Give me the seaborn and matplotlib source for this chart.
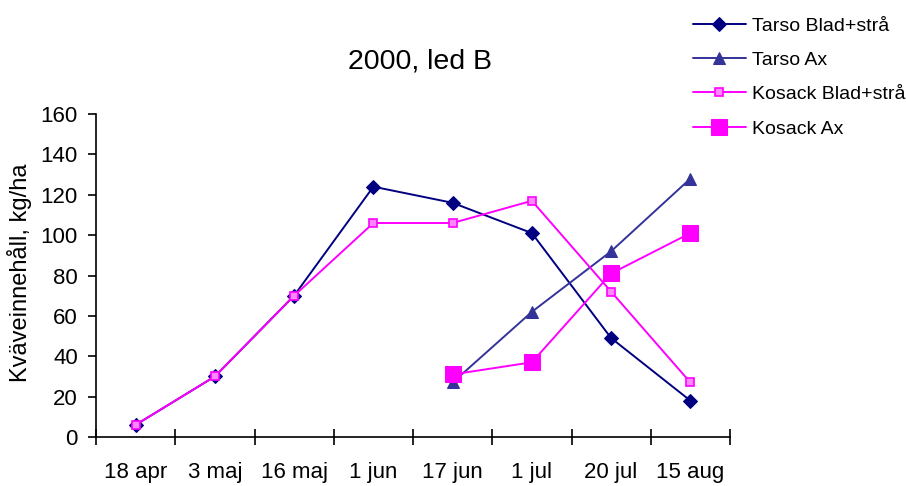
import matplotlib
matplotlib.use("Agg")
import numpy as np
import pandas as pd
import matplotlib.pyplot as plt
import seaborn as sns

# ---- data ----
dates = ["18 apr", "3 maj", "16 maj", "1 jun", "17 jun", "1 jul", "20 jul", "15 aug"]
tarso_blad = [6, 30, 70, 124, 116, 101, 49, 18]
tarso_ax = [np.nan, np.nan, np.nan, np.nan, 27, 62, 92, 128]
kosack_blad = [6, 30, 70, 106, 106, 117, 72, 27]
kosack_ax = [np.nan, np.nan, np.nan, np.nan, 31, 37, 81, 101]
series_names = ["Tarso Blad+strå", "Tarso Ax", "Kosack Blad+strå", "Kosack Ax"]
title = "2000, led B"
ylabel = "Kväveinnehåll, kg/ha"

sns.set_style("white")
plt.rcParams["font.family"] = ["Liberation Sans", "DejaVu Sans"]
plt.rcParams["text.color"] = "black"
plt.rcParams["xtick.color"] = "black"
plt.rcParams["ytick.color"] = "black"

fig = plt.figure(figsize=(9.06, 4.86), dpi=100)
W, H = 906, 486
ax = fig.add_axes([96 / W, 1 - 437 / H, (730 - 96) / W, (437 - 114) / H])

pos = np.arange(len(dates))
styles = [
    dict(color="#000080", marker="D", markersize=7, markerfacecolor="#000080",
         markeredgecolor="#000080"),
    dict(color="#333399", marker="^", markersize=9, markerfacecolor="#333399",
         markeredgecolor="#333399"),
    dict(color="#FF00FF", marker="s", markersize=6, markerfacecolor="#FF88FF",
         markeredgecolor="#FF00FF", markeredgewidth=1.2),
    dict(color="#FF00FF", marker="s", markersize=11, markerfacecolor="#FF00FF",
         markeredgecolor="#FF00FF"),
]
for name, vals, st in zip(series_names, [tarso_blad, tarso_ax, kosack_blad, kosack_ax], styles):
    df = pd.DataFrame({"x": pos, "y": vals}).dropna()
    sns.lineplot(data=df, x="x", y="y", ax=ax, label=name, linewidth=1.4, **st)

ax.set_xlim(-0.5, len(dates) - 0.5)
ax.set_ylim(0, 160)
ax.set_yticks(np.arange(0, 161, 20))
ax.set_xticks(pos)
ax.set_xticklabels(dates)
ax.set_xticks(np.arange(-0.5, len(dates), 1.0), minor=True)
ax.tick_params(axis="x", which="major", length=0, pad=18, labelsize=16, labelcolor="black")
ax.tick_params(axis="x", which="minor", bottom=True, direction="inout", length=11,
               width=1.2, color="black")
ax.tick_params(axis="y", which="major", left=True, direction="out", length=6, width=1.2,
               color="black", pad=7, labelsize=16, labelcolor="black")
ax.set_xlabel("")
ax.set_ylabel("")
for s in ["top", "right"]:
    ax.spines[s].set_visible(False)
for s in ["left", "bottom"]:
    ax.spines[s].set_color("black")
    ax.spines[s].set_linewidth(1.2)
ax.grid(False)

fig.text(20 / W, 1 - 273 / H, ylabel, rotation=90, ha="center", va="center", fontsize=17)
fig.text(420 / W, 1 - 62 / H, title, ha="center", va="center", fontsize=20.5)

handles, labels = ax.get_legend_handles_labels()
ax.get_legend().remove()
fig.legend(handles, labels, loc="upper left", bbox_to_anchor=(693 / W, 1 - 17 / H),
           frameon=False, fontsize=14, handlelength=2.7, handletextpad=0.35,
           labelspacing=0.86, borderpad=0, borderaxespad=0)

fig.savefig("out.png", dpi=100)
